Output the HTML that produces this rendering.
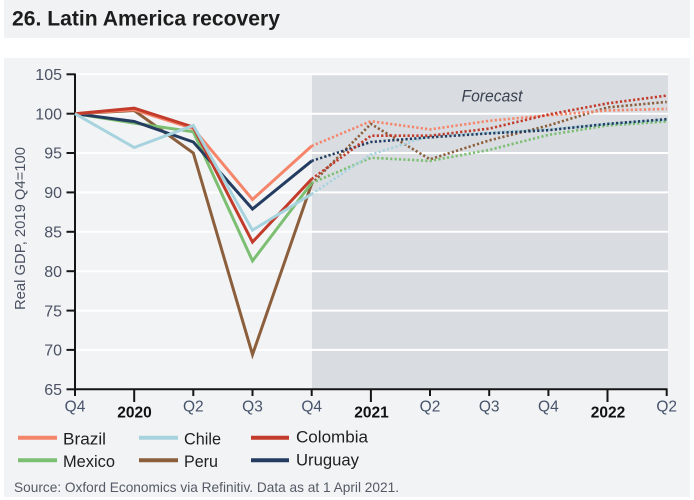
<!DOCTYPE html>
<html><head><meta charset="utf-8"><style>
html,body{margin:0;padding:0;background:#fff;}
svg{display:block;}
text{font-family:"Liberation Sans",sans-serif;}
</style></head><body>
<svg width="694" height="500" viewBox="0 0 694 500" xmlns="http://www.w3.org/2000/svg">
<rect x="0" y="0" width="694" height="500" fill="#fff"/>
<!-- title band -->
<rect x="4" y="0" width="686" height="38" fill="#f1f2f3"/>
<text x="12" y="25.5" font-size="21" font-weight="bold" fill="#1c1c1c" textLength="268" lengthAdjust="spacingAndGlyphs">26. Latin America recovery</text>
<!-- panel -->
<rect x="4" y="58" width="686" height="439" fill="#f2f3f5"/>
<!-- forecast shading -->
<rect x="312" y="75" width="356" height="314" fill="#d9dce0"/>
<!-- gridlines -->
<g stroke="#ffffff" stroke-width="2">
<line x1="75" y1="74.3" x2="668" y2="74.3"/>
<line x1="75" y1="113.7" x2="668" y2="113.7"/>
<line x1="75" y1="153" x2="668" y2="153"/>
<line x1="75" y1="192.4" x2="668" y2="192.4"/>
<line x1="75" y1="231.8" x2="668" y2="231.8"/>
<line x1="75" y1="271.2" x2="668" y2="271.2"/>
<line x1="75" y1="310.6" x2="668" y2="310.6"/>
<line x1="75" y1="349.9" x2="668" y2="349.9"/>
</g>
<text x="492" y="101.5" font-size="16.5" font-style="italic" fill="#3a4252" text-anchor="middle" textLength="61" lengthAdjust="spacingAndGlyphs">Forecast</text>
<!-- axes -->
<g stroke="#151515" stroke-width="2" fill="none">
<line x1="75" y1="73.5" x2="75" y2="390"/>
<line x1="74" y1="389.3" x2="667.5" y2="389.3"/>
<line x1="66.5" y1="74.3" x2="75" y2="74.3"/>
<line x1="66.5" y1="113.7" x2="75" y2="113.7"/>
<line x1="66.5" y1="153" x2="75" y2="153"/>
<line x1="66.5" y1="192.4" x2="75" y2="192.4"/>
<line x1="66.5" y1="231.8" x2="75" y2="231.8"/>
<line x1="66.5" y1="271.2" x2="75" y2="271.2"/>
<line x1="66.5" y1="310.6" x2="75" y2="310.6"/>
<line x1="66.5" y1="349.9" x2="75" y2="349.9"/>
<line x1="66.5" y1="389.3" x2="75" y2="389.3"/>
<line x1="75" y1="389" x2="75" y2="396"/>
<line x1="134.2" y1="389" x2="134.2" y2="402"/>
<line x1="193.3" y1="389" x2="193.3" y2="396"/>
<line x1="252.5" y1="389" x2="252.5" y2="396"/>
<line x1="311.7" y1="389" x2="311.7" y2="396"/>
<line x1="370.9" y1="389" x2="370.9" y2="402"/>
<line x1="430" y1="389" x2="430" y2="396"/>
<line x1="489.2" y1="389" x2="489.2" y2="396"/>
<line x1="548.4" y1="389" x2="548.4" y2="396"/>
<line x1="607.5" y1="389" x2="607.5" y2="402"/>
<line x1="666.7" y1="389" x2="666.7" y2="396"/>
</g>
<!-- y labels -->
<g font-size="16" fill="#4a5263" text-anchor="end">
<text x="62" y="80">105</text>
<text x="62" y="119.4">100</text>
<text x="62" y="158.7">95</text>
<text x="62" y="198.1">90</text>
<text x="62" y="237.5">85</text>
<text x="62" y="276.9">80</text>
<text x="62" y="316.3">75</text>
<text x="62" y="355.6">70</text>
<text x="62" y="395">65</text>
</g>
<text transform="translate(25,228.5) rotate(-90)" font-size="15" fill="#4a5263" text-anchor="middle" textLength="163" lengthAdjust="spacingAndGlyphs">Real GDP, 2019 Q4=100</text>
<!-- x labels -->
<g font-size="15.5" fill="#46536b" text-anchor="middle">
<text x="75" y="411.7">Q4</text>
<text x="193.3" y="411.7">Q2</text>
<text x="252.5" y="411.7">Q3</text>
<text x="311.7" y="411.7">Q4</text>
<text x="430" y="411.7">Q2</text>
<text x="489.2" y="411.7">Q3</text>
<text x="548.4" y="411.7">Q4</text>
<text x="666.7" y="411.7">Q2</text>
</g>
<g font-size="15.5" font-weight="bold" fill="#111" text-anchor="middle">
<text x="134.5" y="417.5">2020</text>
<text x="371.5" y="417.5">2021</text>
<text x="608" y="417.5">2022</text>
</g>
<!-- series solid -->
<g fill="none" stroke-width="3" stroke-linejoin="miter">
<polyline stroke="#8b5e3c" points="75,113.7 134.2,110.5 193.3,153 252.5,354.6 311.7,183.8"/>
<polyline stroke="#7cbf73" points="75,113.7 134.2,123.1 193.3,131.8 252.5,260.9 311.7,183"/>
<polyline stroke="#243c60" points="75,113.7 134.2,121.5 193.3,142 252.5,209 311.7,160.9"/>
<polyline stroke="#f4856a" points="75,113.7 134.2,109.7 193.3,128.6 252.5,199.5 311.7,146"/>
<polyline stroke="#c23b2b" points="75,113.7 134.2,108.2 193.3,127.1 252.5,242 311.7,179"/>
<polyline stroke="#a7d3df" points="75,113.7 134.2,147.5 193.3,125.5 252.5,230.2 311.7,194"/>
</g>
<!-- series dotted -->
<g fill="none" stroke-width="2.6" stroke-dasharray="2.2 2.2">
<polyline stroke="#8b5e3c" points="311.7,183.8 370.9,123.9 430,159.3 489.2,140.4 548.4,125.5 607.5,107.4 666.7,101.9"/>
<polyline stroke="#7cbf73" points="311.7,183 370.9,157.8 430,160.9 489.2,149.9 548.4,134.9 607.5,125.5 666.7,121.5"/>
<polyline stroke="#a7d3df" points="311.7,194 370.9,154.6 430,135.7 489.2,132.6 548.4,129.4 607.5,123.9 666.7,120"/>
<polyline stroke="#243c60" points="311.7,160.9 370.9,142 430,137.3 489.2,133.4 548.4,130.2 607.5,123.9 666.7,119.2"/>
<polyline stroke="#f4856a" points="311.7,146 370.9,121.2 430,129.4 489.2,120.8 548.4,115.3 607.5,110.5 666.7,108.9"/>
<polyline stroke="#c23b2b" points="311.7,179 370.9,135.7 430,135.7 489.2,128.6 548.4,114.5 607.5,103.4 666.7,95.6"/>
</g>
<!-- legend -->
<g stroke-width="4">
<line x1="18" y1="437.7" x2="57" y2="437.7" stroke="#f4856a"/>
<line x1="139" y1="437.7" x2="178" y2="437.7" stroke="#a7d3df"/>
<line x1="251" y1="437.7" x2="289" y2="437.7" stroke="#c23b2b"/>
<line x1="18" y1="460.3" x2="57" y2="460.3" stroke="#7cbf73"/>
<line x1="139" y1="460.3" x2="178" y2="460.3" stroke="#8b5e3c"/>
<line x1="251" y1="460.3" x2="289" y2="460.3" stroke="#243c60"/>
</g>
<g font-size="17" fill="#1f1f1f">
<text x="63" y="444.5" textLength="43" lengthAdjust="spacingAndGlyphs">Brazil</text>
<text x="184" y="444.5" textLength="37" lengthAdjust="spacingAndGlyphs">Chile</text>
<text x="296" y="442.5" textLength="72" lengthAdjust="spacingAndGlyphs">Colombia</text>
<text x="63" y="467" textLength="52" lengthAdjust="spacingAndGlyphs">Mexico</text>
<text x="184" y="467" textLength="34" lengthAdjust="spacingAndGlyphs">Peru</text>
<text x="296" y="465.5" textLength="63" lengthAdjust="spacingAndGlyphs">Uruguay</text>
</g>
<text x="14" y="492" font-size="14" fill="#545a66" textLength="385" lengthAdjust="spacingAndGlyphs">Source: Oxford Economics via Refinitiv. Data as at 1 April 2021.</text>
</svg>
</body></html>
